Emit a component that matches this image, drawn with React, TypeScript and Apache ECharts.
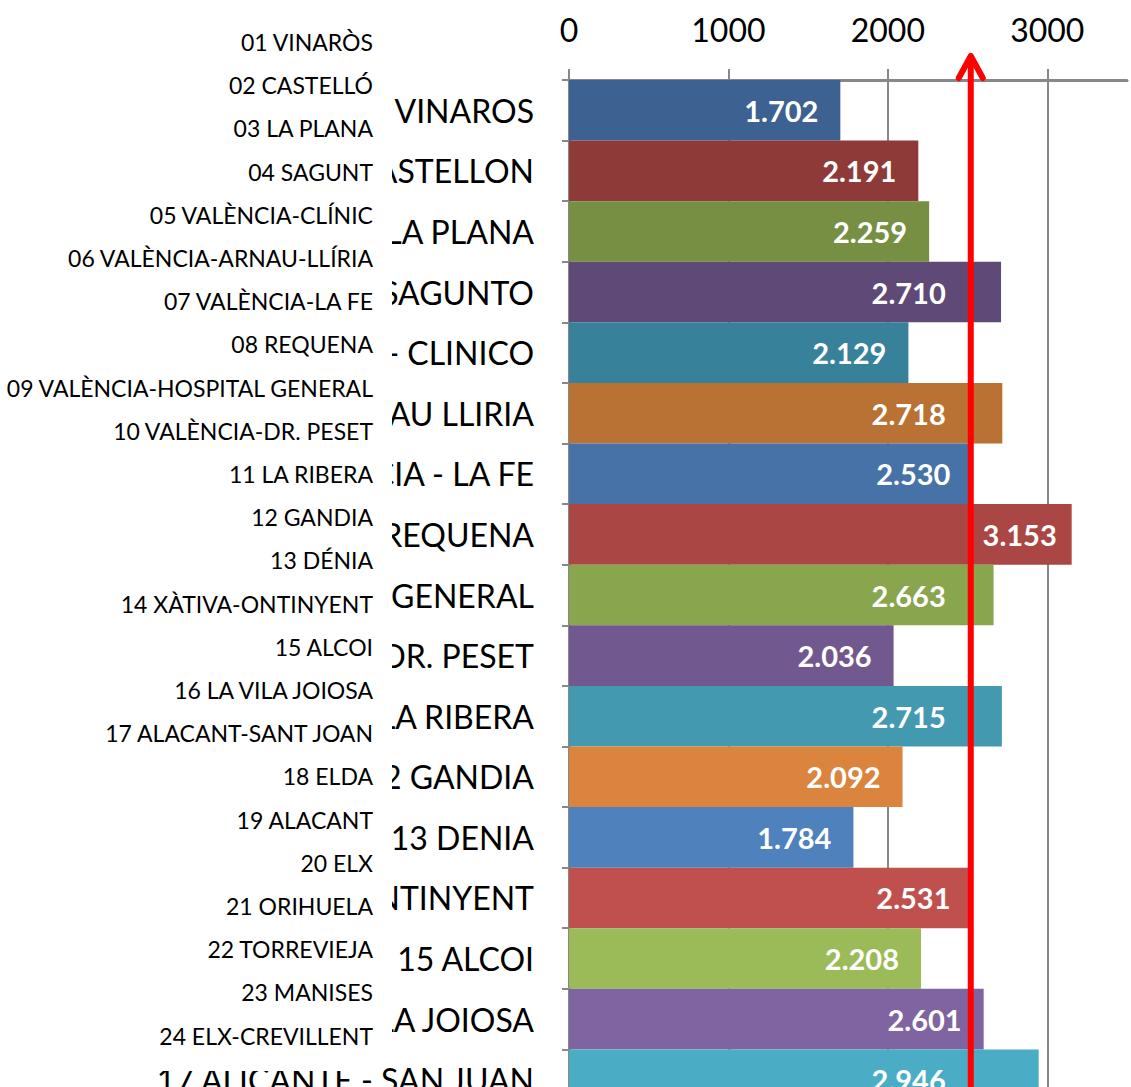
import React, { useEffect, useRef } from "react";
import * as echarts from "echarts";

const categories = [
  "01 VINAROS",
  "02 CASTELLON",
  "03 LA PLANA",
  "04 SAGUNTO",
  "05 VALENCIA - CLINICO",
  "06 VALENCIA - ARNAU LLIRIA",
  "07 VALENCIA - LA FE",
  "08 REQUENA",
  "09 VALENCIA - GENERAL",
  "10 VALENCIA - DR. PESET",
  "11 LA RIBERA",
  "12 GANDIA",
  "13 DENIA",
  "14 XATIVA - ONTINYENT",
  "15 ALCOI",
  "16 LA VILA JOIOSA",
  "17 ALICANTE - SAN JUAN",
];

const values = [1702, 2191, 2259, 2710, 2129, 2718, 2530, 3153, 2663, 2036, 2715, 2092, 1784, 2531, 2208, 2601, 2946];

const barColors = [
  "#3D6190", "#8E3A38", "#768F42", "#5F4A77", "#37829A", "#B97134",
  "#4672A7", "#AA4745", "#89A54E", "#71598F", "#4299B0", "#DB843D",
  "#4F81BD", "#C0504D", "#9BBB59", "#8064A2", "#4BACC6",
];

const xTicks = [0, 1000, 2000, 3000];
const referenceValue = 2520;

const departmentList = [
  "01 VINARÒS",
  "02 CASTELLÓ",
  "03 LA PLANA",
  "04 SAGUNT",
  "05 VALÈNCIA-CLÍNIC",
  "06 VALÈNCIA-ARNAU-LLÍRIA",
  "07 VALÈNCIA-LA FE",
  "08 REQUENA",
  "09 VALÈNCIA-HOSPITAL GENERAL",
  "10 VALÈNCIA-DR. PESET",
  "11 LA RIBERA",
  "12 GANDIA",
  "13 DÉNIA",
  "14 XÀTIVA-ONTINYENT",
  "15 ALCOI",
  "16 LA VILA JOIOSA",
  "17 ALACANT-SANT JOAN",
  "18 ELDA",
  "19 ALACANT",
  "20 ELX",
  "21 ORIHUELA",
  "22 TORREVIEJA",
  "23 MANISES",
  "24 ELX-CREVILLENT",
];

const FONT = "Lato";
const LABEL_DIST = 22;
const LABEL_W = 76;

function fmt(v: number): string {
  const th = Math.floor(v / 1000);
  const rest = v % 1000;
  return th > 0 ? th + "." + String(rest).padStart(3, "0") : String(rest);
}

export default function App() {
  const ref = useRef<HTMLDivElement>(null);
  useEffect(() => {
    if (!ref.current) return;
    document.body.style.overflow = "hidden";
    const chart = echarts.init(ref.current, null, { renderer: "svg" });
    const gray = "#888888";
    const baseData = values.map((v, i) => ({ value: v, itemStyle: { color: barColors[i] } }));
    chart.setOption({
      animation: false,
      backgroundColor: "#ffffff",
      grid: { left: 569, top: 80, width: 558, height: 1030, containLabel: false },
      xAxis: {
        type: "value",
        position: "top",
        min: 0,
        max: 3500,
        interval: 1000,
        axisLine: { show: true, lineStyle: { color: gray, width: 3 } },
        axisTick: { show: true, length: 11, lineStyle: { color: gray, width: 2 } },
        axisLabel: {
          showMaxLabel: false,
          fontSize: 32,
          fontFamily: FONT,
          color: "#000",
          margin: 35,
          formatter: (v: number) => (xTicks.includes(v) ? String(v) : ""),
        },
        splitLine: { show: true, showMaxLine: false, lineStyle: { color: gray, width: 2 } },
      },
      yAxis: {
        type: "category",
        inverse: true,
        data: categories,
        axisLine: { show: true, lineStyle: { color: gray, width: 3 } },
        axisTick: { show: true, length: 7, lineStyle: { color: gray, width: 2 } },
        axisLabel: { fontSize: 32, fontFamily: FONT, color: "#000", margin: 35 },
      },
      series: [
        {
          type: "bar",
          barCategoryGap: "0%",
          data: baseData,
          label: {
            show: true,
            position: "insideRight",
            distance: LABEL_DIST,
            color: "#fff",
            fontWeight: "bold",
            fontSize: 29,
            fontFamily: FONT,
            formatter: (p: any) => fmt(p.value),
          },
        },
      ],
    });
    const x = chart.convertToPixel({ xAxisIndex: 0 }, referenceValue) as number;
    // keep value labels clear of the red reference line
    const shifted = values.map((v, i) => {
      const barEnd = chart.convertToPixel({ xAxisIndex: 0 }, v) as number;
      const end = barEnd - LABEL_DIST;
      const start = end - LABEL_W;
      let dx = 0;
      if (start < x + 6 && end > x - 6) {
        const right = x + 10 - start;
        if (end + right <= barEnd - 10) dx = right;
        else dx = x - 25 - end;
      }
      return { ...baseData[i], label: { offset: [dx, 0] } };
    });
    const listEls: any[] = departmentList.map((t, i) => ({
      type: "text",
      z: 101,
      style: {
        text: t,
        x: 373,
        y: 42 + i * 43.2,
        align: "right",
        verticalAlign: "middle",
        fontSize: 23,
        fontFamily: FONT,
        fill: "#000",
      },
    }));
    chart.setOption({
      series: [{ data: shifted }],
      graphic: [
        { type: "rect", z: 100, shape: { x: 0, y: 0, width: 392, height: 1064 }, style: { fill: "#fff" } },
        { type: "rect", z: 100, shape: { x: 0, y: 0, width: 381, height: 1071 }, style: { fill: "#fff" } },
        ...listEls,
        {
          type: "line",
          z: 102,
          shape: { x1: x, y1: 1200, x2: x, y2: 58 },
          style: { stroke: "#ff0000", lineWidth: 6 },
        },
        {
          type: "polyline",
          z: 102,
          shape: { points: [[x - 12, 78], [x, 56], [x + 12, 78]] },
          style: { stroke: "#ff0000", lineWidth: 6, lineCap: "round", lineJoin: "round", fill: "none" },
        },
      ],
    });
    return () => chart.dispose();
  }, []);
  return (
    <div
      ref={ref}
      style={{ position: "fixed", left: 0, top: 0, width: 1131, height: 1120, background: "#fff" }}
    />
  );
}
